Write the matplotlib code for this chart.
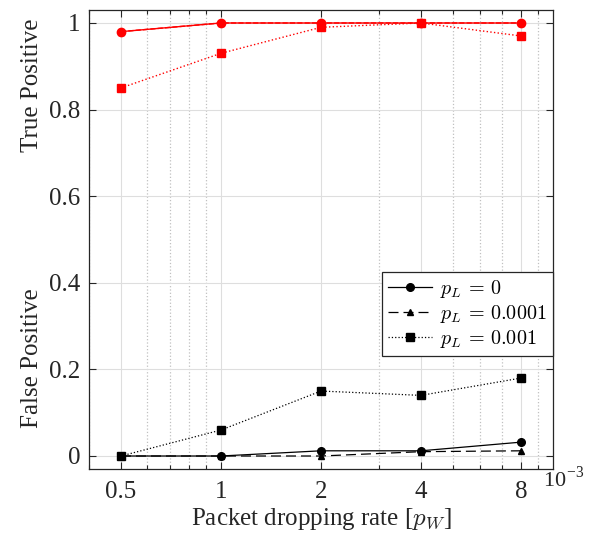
import numpy as np
import matplotlib
matplotlib.use('Agg')
import matplotlib.pyplot as plt
from matplotlib.ticker import FixedLocator, NullFormatter

# Data (x in units of 1e-3)
drop_rate = [0.5, 1, 2, 4, 8]
tick_labels = ['0.5', '1', '2', '4', '8']

tp_pl0 = [0.98, 1.0, 1.0, 1.0, 1.0]
tp_pl1e4 = [0.98, 1.0, 1.0, 1.0, 1.0]
tp_pl1e3 = [0.85, 0.93, 0.99, 1.0, 0.97]

fp_pl0 = [0.0, 0.0, 0.012, 0.012, 0.032]
fp_pl1e4 = [0.0, 0.0, 0.0, 0.01, 0.012]
fp_pl1e3 = [0.0, 0.06, 0.15, 0.14, 0.18]

legend_labels = ['$p_L \\,=\\, 0$', '$p_L \\,=\\, 0.0001$', '$p_L \\,=\\, 0.001$']

plt.rcParams['font.family'] = 'Liberation Serif'
plt.rcParams['mathtext.fontset'] = 'cm'
txt = '#262626'

fig = plt.figure(figsize=(6, 5.4), dpi=100)
ax = fig.add_axes([0.148, 0.1315, 0.774, 0.85])

ax.set_xscale('log')
ax.set_xlim(0.4, 10)
ax.set_ylim(-0.03, 1.03)

# Grid
ax.xaxis.set_major_locator(FixedLocator(drop_rate))
ax.set_xticklabels(tick_labels)
minor = [0.4, 0.6, 0.7, 0.8, 0.9, 3, 5, 6, 7, 9]
ax.xaxis.set_minor_locator(FixedLocator(minor))
ax.xaxis.set_minor_formatter(NullFormatter())
ax.set_yticks([0, 0.2, 0.4, 0.6, 0.8, 1.0])
ax.set_yticklabels(['0', '0.2', '0.4', '0.6', '0.8', '1'])
ax.grid(which='major', color='#dedede', linewidth=0.8)
ax.grid(which='minor', axis='x', color='#c0c0c0', linestyle=':', linewidth=0.9)
ax.set_axisbelow(True)

ax.tick_params(which='both', direction='in', top=True, right=True,
               labelsize=18, colors=txt, width=0.8)
ax.tick_params(which='major', length=5)
ax.tick_params(which='minor', length=3)
ax.tick_params(axis='x', pad=9)
ax.tick_params(axis='y', pad=6)
for s in ax.spines.values():
    s.set_color(txt)
    s.set_linewidth(0.9)

# True positive (red)
ax.plot(drop_rate, tp_pl1e4, color='red', linestyle='--', marker='^', markersize=5, lw=1, zorder=2)
ax.plot(drop_rate, tp_pl0, color='red', linestyle='-', marker='o', markersize=6, lw=1, zorder=3)
ax.plot(drop_rate, tp_pl1e3, color='red', linestyle=':', marker='s', markersize=5.5, lw=1, zorder=4)

# False positive (black)
l1, = ax.plot(drop_rate, fp_pl0, color='black', linestyle='-', marker='o', markersize=5.5, lw=0.9)
l2, = ax.plot(drop_rate, fp_pl1e4, color='black', linestyle=(0, (8, 4)), marker='^', markersize=5, lw=0.9)
l3, = ax.plot(drop_rate, fp_pl1e3, color='black', linestyle=':', marker='s', markersize=5.5, lw=0.9)

leg = ax.legend([l1, l2, l3], legend_labels, loc='upper right',
                bbox_to_anchor=(1.0, 0.429), borderaxespad=0, fontsize=14.5,
                fancybox=False, framealpha=1, edgecolor=txt, numpoints=1,
                handlelength=2.2, labelspacing=0.15, borderpad=0.3,
                handletextpad=0.4)
leg.get_frame().set_linewidth(0.9)

ax.set_xlabel('Packet dropping rate [$p_W$]', fontsize=18, color=txt, labelpad=2)
fig.text(0.905, 0.098, '10$^{\\mathregular{-3}}$', fontsize=16, color=txt, va='baseline')

fig.text(0.053, 0.843, 'True Positive', rotation=90, fontsize=18, color=txt, ha='center', va='center')
fig.text(0.053, 0.337, 'False Positive', rotation=90, fontsize=18, color=txt, ha='center', va='center')

fig.savefig('out.png', dpi=100)
